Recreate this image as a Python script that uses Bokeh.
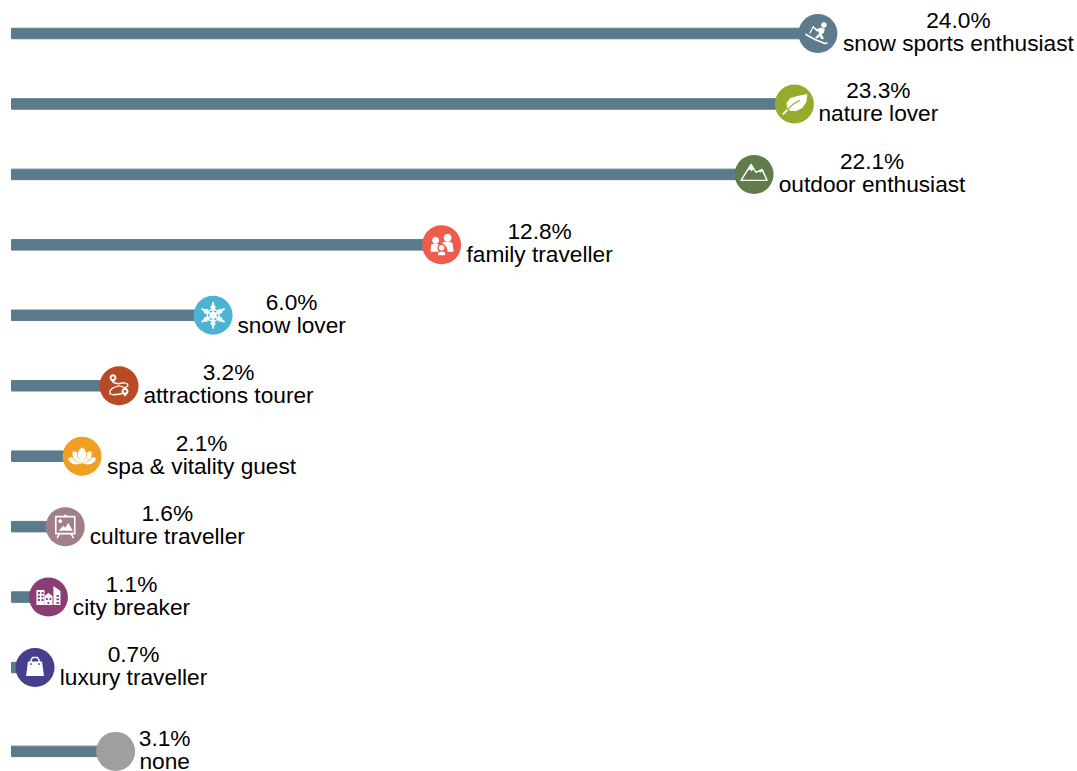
import math
from bokeh.embed import file_html
from bokeh.resources import INLINE
from bokeh.models import ColumnDataSource, Range1d
from bokeh.plotting import figure
from bokeh.core.properties import value

labels = ["snow sports enthusiast", "nature lover", "outdoor enthusiast", "family traveller",
          "snow lover", "attractions tourer", "spa & vitality guest", "culture traveller",
          "city breaker", "luxury traveller", "none"]
shares = [24.0, 23.3, 22.1, 12.8, 6.0, 3.2, 2.1, 1.6, 1.1, 0.7, 3.1]
rows = [0, 1, 2, 3, 4, 5, 6, 7, 8, 9, 10.19]
colors = ["#5d7b8d", "#94ab2c", "#5f7d4b", "#ee5c4e", "#4cb3d2", "#b94a26",
          "#f19f22", "#a07f8b", "#8a3c74", "#453f8c", "#9f9f9f"]
label_widths = [233, 120, 188, 148, 109, 171, 191, 156, 118, 149, 50]
icons = ["ski", "leaf", "mountain", "family", "snow", "route", "lotus", "easel", "city", "bag", None]

BAR = "#5b7b8c"
W, H = 1077, 771
PX_PER_PCT = 33.6
PX_PER_ROW = 70.45
X0_PX = 11.0    # share 0 within the frame
Y0_PX = 33.0    # first row within the frame

p = figure(width=W, height=H, output_backend="svg", toolbar_location=None,
           x_range=Range1d(-X0_PX / PX_PER_PCT, (W - X0_PX) / PX_PER_PCT),
           y_range=Range1d((H - Y0_PX) / PX_PER_ROW, -Y0_PX / PX_PER_ROW),
           min_border=0, outline_line_color=None, background_fill_color="white")
p.axis.visible = False
p.grid.visible = False

src = ColumnDataSource(dict(
    label=labels, share=shares, row=rows, color=colors,
    value_text=[f"{s:.1f}%" for s in shares],
    zero=[0] * len(shares),
    off=[24 + w / 2 for w in label_widths],
))

p.hbar(y="row", left="zero", right="share", height=10.5 / PX_PER_ROW, color=BAR, source=src)
p.scatter(x="share", y="row", size=39, color="color", line_color=None, source=src)

common = dict(source=src, text_font=value("Liberation Sans"), text_font_size="22.7px",
              text_color="#000000", text_align="center", text_baseline="middle",
              x="share", y="row", x_offset="off")
p.text(text="value_text", y_offset=-13.5, **common)
p.text(text="label", y_offset=9.5, **common)


def circ(cx, cy, r, n=28):
    return [(cx + r * math.cos(2 * math.pi * i / n), cy + r * math.sin(2 * math.pi * i / n)) for i in range(n)]


def arm(cx, cy, ang, r0, r1):
    a = math.radians(ang)
    return [(cx + r0 * math.cos(a), cy + r0 * math.sin(a)), (cx + r1 * math.cos(a), cy + r1 * math.sin(a))]


def petal(ang, length, w, cx=0, cy=7):
    a = math.radians(ang)
    pts = []
    for t, s in [(0, 0), (.3, .8), (.6, 1), (.85, .6), (1, 0), (.85, -.6), (.6, -1), (.3, -.8)]:
        lx, ly = t * length, s * w
        pts.append((cx + lx * math.sin(a) + ly * math.cos(a), cy - lx * math.cos(a) + ly * math.sin(a)))
    return pts


WHT = "#ffffff"


def icon_shapes(kind, bg):
    s = []
    f = lambda pts, c=WHT: s.append(("f", pts, c))
    l = lambda pts, w=1.4, c=WHT: s.append(("l", pts, w, c))
    if kind == "ski":
        f(circ(6, -8.5, 2.8))
        f([(3, -6), (7, -4.5), (6, -1), (4, 1), (6, 5), (4, 6), (0.5, 1.5), (1, -2), (-1, -2), (-5, -6), (-4.5, -7), (-1, -4.5)])
        f([(0, 1), (2, 3), (-1, 5), (-3, 4.5)])
        l([(-4.5, -7), (-8, -0.5)], 1.2)
        l([(-12, 1), (-3, 6), (7, 10), (9, 9.5)], 1.7)
    elif kind == "leaf":
        f([(13, -10), (12, -2), (8, 4), (2, 7), (-4, 7), (-7, 4), (-8, -1), (-4, -6), (3, -8)])
        l([(-11, 10), (-6, 5)], 1.8)
        l([(-7, 6), (-1, 0), (5, -3.5)], 1.2, bg)
    elif kind == "mountain":
        l([(-13, 6), (-3, -10), (2, -2), (8, -5), (13, 6), (-13, 6)], 1.4)
        f([(-3, -10), (-7, -3.5), (-4, -5), (-2.5, -3), (-0.5, -5.5), (1, -3.5)])
        f([(8, -5), (4, -2.8), (6.5, -2), (8, -3), (10.5, -0.5)])
    elif kind == "family":
        f(circ(6, -7, 3.9))
        f([(1, -2.5), (3, -3), (9, -3), (11, -1), (12, 7), (6, 7), (5, 2), (1, 1)])
        f(circ(-6, -4.5, 3.5))
        f([(-11, 7), (-10.5, 0), (-8, -1), (-4, -1), (-2, 1), (-3, 7)])
        f(circ(0, 3, 4.2), bg)
        f(circ(0, 3, 2.8))
        f([(-4.5, 11), (-4.5, 7.5), (-2, 6), (2, 6), (4.5, 7.5), (4.5, 11)], bg)
        f([(-3.5, 10.5), (-3.5, 8), (-2, 7), (2, 7), (3.5, 8), (3.5, 10.5)])
    elif kind == "snow":
        for ang in range(-90, 270, 60):
            l(arm(0, 0, ang, 3.5, 12.5), 2.0)
            for r, d in [(8, 3.6), (10.5, 3)]:
                a = math.radians(ang)
                cx, cy = r * math.cos(a), r * math.sin(a)
                l(arm(cx, cy, ang + 140, 0, d), 1.6)
                l(arm(cx, cy, ang - 140, 0, d), 1.6)
        f(circ(0, 0, 3.8, 6))
    elif kind == "route":
        l([(-5, -3), (-1, -2), (5, -3), (8, -2), (9, 0), (6, 2), (0, 0), (-6, 2), (-9, 5), (-9, 8), (-6, 9), (0, 8.5), (4, 7.5), (6, 5)], 1.3)
        for cx, cy in [(-6, -8), (6, 5.5)]:
            f(circ(cx, cy, 3.4))
            f([(cx - 2.8, cy + 1.5), (cx, cy + 5.5), (cx + 2.8, cy + 1.5)])
            f(circ(cx, cy, 1.4), bg)
    elif kind == "lotus":
        for ang, ln, w in [(-72, 15, 3.6), (72, 15, 3.6), (-38, 15, 3.8), (38, 15, 3.8), (0, 16, 4.4)]:
            f(petal(ang, ln + .8, w + .8), bg)
            f(petal(ang, ln, w))
    elif kind == "easel":
        l([(-9.5, -10), (9.5, -10), (9.5, 7), (-9.5, 7), (-9.5, -10)], 1.6)
        l([(-6, 7.5), (-8, 11)], 1.6)
        l([(6, 7.5), (8, 11)], 1.6)
        f([(-1.5, -12), (1.5, -12), (1.5, -10), (-1.5, -10)])
        f(circ(-5, -5.5, 1.9))
        f([(-6.5, 4), (-2, -1), (0, 1), (3, -4), (7.5, 4)])
    elif kind == "city":
        f([(-12, -7), (-4, -7), (-4, 8), (-12, 8)])
        f([(-4, -1), (0, -4), (4, -1), (4, 8), (-4, 8)])
        f([(5, -11), (12, -6), (12, 8), (5, 8)])
        for wx in (-10.5, -7):
            for wy in (-5, -1.5, 2):
                f([(wx, wy), (wx + 2, wy), (wx + 2, wy + 2), (wx, wy + 2)], bg)
        for wx, wy in [(-2.5, 1), (1, 1), (-1, 4.8)]:
            f([(wx, wy), (wx + 1.8, wy), (wx + 1.8, wy + 2), (wx, wy + 2)], bg)
        for wy in (-2, 1.5, 5):
            f([(8, wy), (10.5, wy), (10.5, wy + 1.6), (8, wy + 1.6)], bg)
    elif kind == "bag":
        l([(-4, -5), (-4, -7.5), (-2.5, -10), (2.5, -10), (4, -7.5), (4, -5)], 1.5)
        f([(-7, -6), (7, -6), (9, 8.5), (-9, 8.5)])
        f(circ(-4, -3.5, .9), bg)
        f(circ(4, -3.5, .9), bg)
    return s


for kind, share, row, color in zip(icons, shares, rows, colors):
    if kind is None:
        continue
    for shape in icon_shapes(kind, color):
        xs = [share + q[0] / PX_PER_PCT for q in shape[1]]
        ys = [row + q[1] / PX_PER_ROW for q in shape[1]]
        if shape[0] == "f":
            p.patch(xs, ys, fill_color=shape[2], line_color=None)
        else:
            p.line(xs, ys, line_color=shape[3], line_width=shape[2], line_join="round", line_cap="round")

open("out.html", "w").write(file_html(p, INLINE))
